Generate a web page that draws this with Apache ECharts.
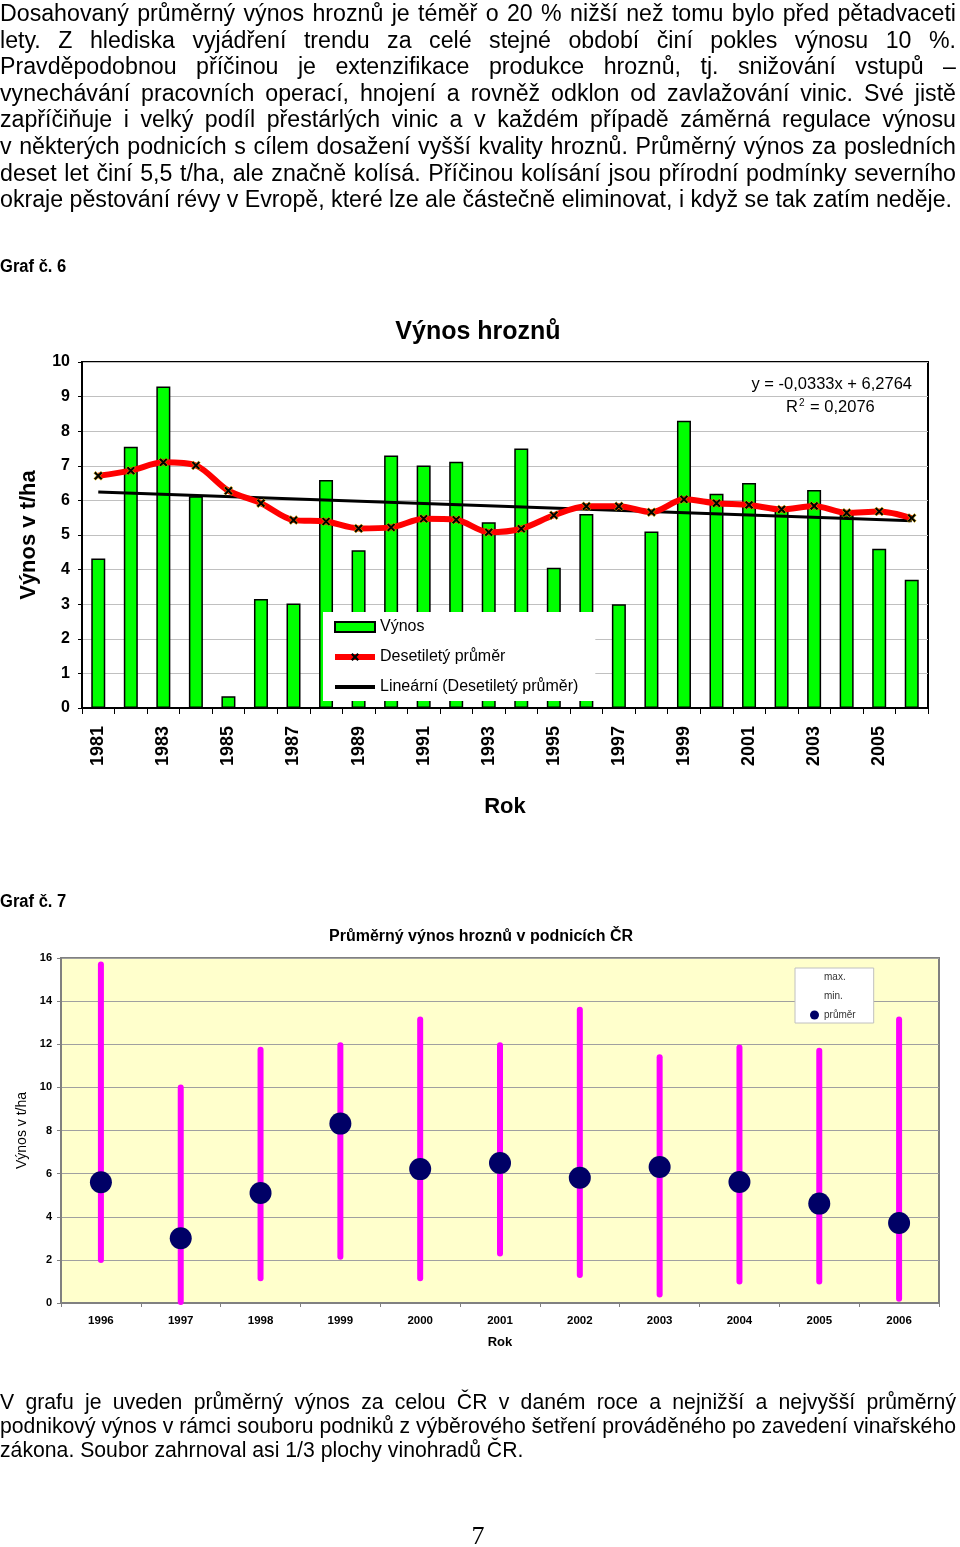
<!DOCTYPE html>
<html>
<head>
<meta charset="utf-8">
<script src="https://cdn.jsdelivr.net/npm/echarts@6/dist/echarts.min.js"></script>
<style>
  html, body { margin: 0; padding: 0; background: #fff; }
  body { width: 960px; height: 1547px; position: relative; overflow: hidden; font-family: 'Liberation Sans', Arial, sans-serif; color: #000; }
  #chart { position: absolute; left: 0; top: 0; width: 960px; height: 1547px; z-index: 1; }
  .para { position: absolute; left: 0; transform-origin: 0 0; z-index: 2; }
  .ln { white-space: nowrap; }
  .ln.j { text-align: justify; text-align-last: justify; }
  .lbl { position: absolute; left: 0; font-weight: bold; font-size: 18px; z-index: 2; transform-origin: 0 0; transform: scaleX(0.92); }
  #pg { position: absolute; left: 0; width: 956px; text-align: center; top: 1521px; font-family: 'Liberation Serif', 'Times New Roman', serif; font-size: 26px; z-index: 2; }
</style>
</head>
<body>
<div id="chart"></div>

<div class="para" id="p1" style="top:0px; line-height:26.6px; font-size:23px;">
  <div class="ln"><span>Dosahovaný průměrný výnos hroznů je téměř o 20 % nižší než tomu bylo před pětadvaceti</span></div>
  <div class="ln"><span>lety. Z hlediska vyjádření trendu za celé stejné období činí pokles výnosu 10 %.</span></div>
  <div class="ln"><span>Pravděpodobnou příčinou je extenzifikace produkce hroznů, tj. snižování vstupů –</span></div>
  <div class="ln"><span>vynechávání pracovních operací, hnojení a rovněž odklon od zavlažování vinic. Své jistě</span></div>
  <div class="ln"><span>zapříčiňuje i velký podíl přestárlých vinic a v každém případě záměrná regulace výnosu</span></div>
  <div class="ln"><span>v některých podnicích s cílem dosažení vyšší kvality hroznů. Průměrný výnos za posledních</span></div>
  <div class="ln"><span>deset let činí 5,5 t/ha, ale značně kolísá. Příčinou kolísání jsou přírodní podmínky severního</span></div>
  <div class="ln last"><span>okraje pěstování révy v Evropě, které lze ale částečně eliminovat, i když se tak zatím neděje.</span></div>
</div>

<div class="lbl" style="top:256px;">Graf č. 6</div>
<div class="lbl" style="top:891px;">Graf č. 7</div>

<div class="para" id="p2" style="top:1390px; line-height:24px; font-size:22px;">
  <div class="ln"><span>V grafu je uveden průměrný výnos za celou ČR v daném roce a nejnižší a nejvyšší průměrný</span></div>
  <div class="ln"><span>podnikový výnos v rámci souboru podniků z výběrového šetření prováděného po zavedení vinařského</span></div>
  <div class="ln last"><span>zákona. Soubor zahrnoval asi 1/3 plochy vinohradů ČR.</span></div>
</div>

<div id="pg">7</div>

<script>
// ---------- Data: Graf č. 6 ----------
const years1 = ['1981','1982','1983','1984','1985','1986','1987','1988','1989','1990','1991','1992','1993',
                '1994','1995','1996','1997','1998','1999','2000','2001','2002','2003','2004','2005','2006'];
const vynos = [4.32, 7.55, 9.29, 6.12, 0.34, 3.15, 3.02, 6.59, 4.56, 7.30, 7.01, 7.12, 5.37,
               7.50, 4.05, 5.61, 3.00, 5.10, 8.30, 6.19, 6.50, 5.72, 6.30, 5.58, 4.60, 3.71];
const prumer10 = [6.71, 6.86, 7.10, 7.01, 6.28, 5.92, 5.43, 5.39, 5.19, 5.22, 5.47, 5.44, 5.08,
                  5.18, 5.57, 5.83, 5.83, 5.66, 6.03, 5.92, 5.87, 5.74, 5.84, 5.64, 5.68, 5.49];
const trendYears = ['1981', '2006'];
const trendValues = [6.24, 5.41];
const eqText = 'y = -0,0333x + 6,2764';
const r2Text = 'R{s|2} = 0,2076';

// ---------- Data: Graf č. 7 ----------
const years2 = ['1996','1997','1998','1999','2000','2001','2002','2003','2004','2005','2006'];
const maxV  = [15.7, 10.0, 11.75, 11.95, 13.15, 11.95, 13.6, 11.4, 11.85, 11.7, 13.15];
const minV  = [2.0, 0.05, 1.15, 2.15, 1.15, 2.3, 1.3, 0.4, 1.0, 1.0, 0.2];
const meanV = [5.6, 3.0, 5.1, 8.32, 6.21, 6.49, 5.81, 6.31, 5.61, 4.61, 3.71];

const FONT = "'Liberation Sans', Arial, sans-serif";
const xMark = 'path://M0,2 L2,0 L5,3 L8,0 L10,2 L7,5 L10,8 L8,10 L5,7 L2,10 L0,8 L3,5 Z';
const barIconPath = 'path://M0,0 L40,0 L40,4 L0,4 Z';

const chart = echarts.init(document.getElementById('chart'), null, { renderer: 'canvas' });

const option = {
  animation: false,
  textStyle: { fontFamily: FONT, color: '#000' },
  title: [
    { text: 'Výnos hroznů', left: 473, top: 315, textAlign: 'center',
      textStyle: { fontSize: 25, fontWeight: 'bold', color: '#000', fontFamily: FONT } },
    { text: 'Průměrný výnos hroznů v podnicích ČR', left: 476, top: 924, textAlign: 'center',
      textStyle: { fontSize: 16, fontWeight: 'bold', color: '#000', fontFamily: FONT } }
  ],
  legend: [
    {
      data: [
        { name: 'Výnos', icon: 'rect' },
        { name: 'Desetiletý průměr', lineStyle: { color: '#ff0000', width: 6 }, itemStyle: { color: '#000', borderWidth: 0 } },
        { name: 'Lineární (Desetiletý průměr)', icon: barIconPath, itemStyle: { color: '#000' } }
      ],
      orient: 'vertical', left: 323, top: 612,
      padding: [7, 17, 6, 9], itemGap: 14, itemWidth: 40, itemHeight: 10,
      backgroundColor: '#fff',
      textStyle: { fontSize: 16, color: '#000', fontFamily: FONT },
      selectedMode: false,
      z: 10
    },
    {
      data: [
        { name: 'max.', icon: 'none' },
        { name: 'min.', icon: 'none' },
        { name: 'průměr', icon: 'circle' }
      ],
      orient: 'vertical', left: 795, top: 968,
      padding: [4, 18, 3, 15], itemGap: 9, itemWidth: 9, itemHeight: 9,
      backgroundColor: '#fff', borderColor: '#c0c0c0', borderWidth: 1,
      textStyle: { fontSize: 10, color: '#333', fontFamily: FONT },
      selectedMode: false,
      z: 10
    }
  ],
  grid: [
    { left: 82, top: 362, width: 846, height: 346, show: true, borderColor: '#000', borderWidth: 2, backgroundColor: 'transparent' },
    { left: 61, top: 958, width: 878, height: 345, show: true, borderColor: '#808080', borderWidth: 2, backgroundColor: '#ffffcc' }
  ],
  xAxis: [
    {
      gridIndex: 0, type: 'category', data: years1, boundaryGap: true,
      name: 'Rok', nameLocation: 'middle', nameGap: 88,
      nameTextStyle: { fontSize: 22, fontWeight: 'bold', color: '#000', fontFamily: FONT },
      axisLine: { lineStyle: { color: '#000', width: 2 } },
      axisTick: { show: true, interval: 0, length: 6, lineStyle: { color: '#000', width: 1 } },
      axisLabel: { interval: 1, rotate: 90, margin: 18, fontSize: 18, fontWeight: 'bold', color: '#000', fontFamily: FONT },
      splitLine: { show: false }
    },
    {
      gridIndex: 1, type: 'category', data: years2, boundaryGap: true,
      name: 'Rok', nameLocation: 'middle', nameGap: 33,
      nameTextStyle: { fontSize: 13, fontWeight: 'bold', color: '#000', fontFamily: FONT },
      axisLine: { lineStyle: { color: '#808080', width: 2 } },
      axisTick: { show: true, interval: 0, length: 4, lineStyle: { color: '#808080', width: 1 } },
      axisLabel: { interval: 0, margin: 12, fontSize: 11.5, fontWeight: 'bold', color: '#000', fontFamily: FONT },
      splitLine: { show: false }
    }
  ],
  yAxis: [
    {
      gridIndex: 0, type: 'value', min: 0, max: 10, interval: 1,
      name: 'Výnos v t/ha', nameLocation: 'middle', nameGap: 42,
      nameTextStyle: { fontSize: 22, fontWeight: 'bold', color: '#000', fontFamily: FONT },
      axisLine: { show: true, lineStyle: { color: '#000', width: 2 } },
      axisTick: { show: true, length: 4, lineStyle: { color: '#000', width: 1 } },
      axisLabel: { margin: 12, fontSize: 16, fontWeight: 'bold', color: '#000', fontFamily: FONT },
      splitLine: { show: true, lineStyle: { color: '#c0c0c0', width: 1 } }
    },
    {
      gridIndex: 1, type: 'value', min: 0, max: 16, interval: 2,
      name: 'Výnos v t/ha', nameLocation: 'middle', nameGap: 32,
      nameTextStyle: { fontSize: 14, color: '#000', fontFamily: FONT },
      axisLine: { show: true, lineStyle: { color: '#808080', width: 2 } },
      axisTick: { show: true, length: 4, lineStyle: { color: '#808080', width: 1 } },
      axisLabel: { margin: 9, fontSize: 11, fontWeight: 'bold', color: '#000', fontFamily: FONT },
      splitLine: { show: true, lineStyle: { color: '#a0a0a0', width: 1 } }
    }
  ],
  graphic: [
    { type: 'text', right: 48, top: 376, z: 20,
      style: { text: eqText, font: '16.5px ' + FONT, fill: '#000' } },
    { type: 'text', left: 786, top: 398, z: 20,
      style: { text: r2Text, font: '16.5px ' + FONT, fill: '#000',
               rich: { s: { fontSize: 10, fontFamily: FONT, verticalAlign: 'top', padding: [0, 1, 8, 1] } } } }
  ],
  series: [
    {
      name: 'Výnos', type: 'bar', xAxisIndex: 0, yAxisIndex: 0,
      data: vynos, barWidth: 14,
      itemStyle: { color: '#00ff00', borderColor: '#000', borderWidth: 1.5 },
      z: 2
    },
    {
      name: 'Lineární (Desetiletý průměr)', type: 'line', xAxisIndex: 0, yAxisIndex: 0,
      data: trendYears.map((y, i) => [y, trendValues[i]]),
      symbol: 'none', lineStyle: { color: '#000', width: 3 }, itemStyle: { color: '#000' },
      z: 3
    },
    {
      name: 'Desetiletý průměr', type: 'line', xAxisIndex: 0, yAxisIndex: 0,
      data: prumer10, smooth: 0.3,
      symbol: xMark, symbolSize: 9, showAllSymbol: true,
      lineStyle: { color: '#ff0000', width: 6 },
      itemStyle: { color: '#000', borderColor: '#ffcc00', borderWidth: 0.5 },
      z: 4
    },
    {
      name: 'max.', type: 'custom', xAxisIndex: 1, yAxisIndex: 1,
      data: years2.map((y, i) => [i, minV[i], maxV[i]]),
      encode: { x: 0, y: [1, 2] },
      renderItem: function (params, api) {
        const p1 = api.coord([api.value(0), api.value(1)]);
        const p2 = api.coord([api.value(0), api.value(2)]);
        return {
          type: 'line',
          shape: { x1: p1[0], y1: p1[1], x2: p2[0], y2: p2[1] },
          style: { stroke: '#ff00ff', lineWidth: 6, lineCap: 'round' }
        };
      },
      z: 3
    },
    {
      name: 'min.', type: 'scatter', xAxisIndex: 1, yAxisIndex: 1, data: [], symbolSize: 0
    },
    {
      name: 'průměr', type: 'scatter', xAxisIndex: 1, yAxisIndex: 1,
      data: meanV, symbol: 'circle', symbolSize: 22,
      itemStyle: { color: '#000066', opacity: 1 },
      z: 5
    }
  ]
};
chart.setOption(option);

// ---------- Justify paragraph lines (layout only) ----------
function fitPara(id, W, lastTarget) {
  const box = document.getElementById(id);
  const lines = box.querySelectorAll('.ln');
  let maxW = 0, lastW = 0;
  lines.forEach(l => {
    const w = l.firstElementChild.getBoundingClientRect().width;
    if (l.classList.contains('last')) lastW = w; else maxW = Math.max(maxW, w);
  });
  let s = lastTarget ? lastTarget / lastW : 1;
  if (maxW * s > W) s = W / maxW;
  box.style.width = (W / s) + 'px';
  box.style.transform = 'scaleX(' + s + ')';
  lines.forEach(l => { if (!l.classList.contains('last')) l.classList.add('j'); });
}
fitPara('p1', 956, 952);
fitPara('p2', 956, 0);
</script>
</body>
</html>
